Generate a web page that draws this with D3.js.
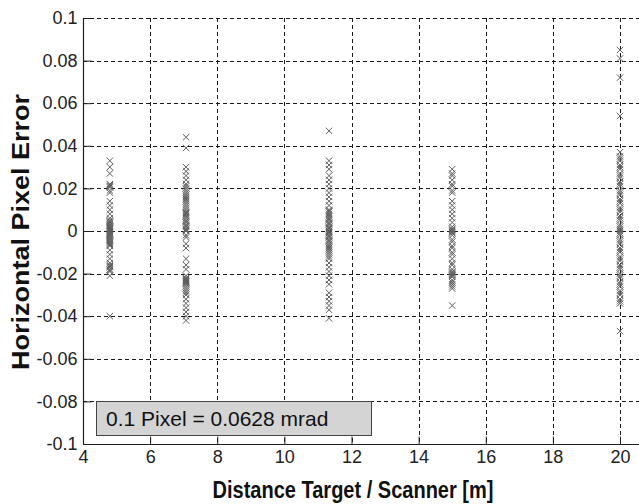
<!DOCTYPE html>
<html><head><meta charset="utf-8">
<script src="https://cdn.jsdelivr.net/npm/d3@7"></script>
<style>body{margin:0;background:#fff}svg{display:block}</style>
</head><body>
<svg id="c" width="639" height="504"></svg>
<script>
const xTicks = [4,6,8,10,12,14,16,18,20];
const yTicks = [-0.1,-0.08,-0.06,-0.04,-0.02,0,0.02,0.04,0.06,0.08,0.1];
const distances = [4.8, 7.07, 11.33, 15.0, 20.0];
const err48 = [0.033,0.030,0.027,0.022,0.0215,0.021,0.0205,0.019,0.018,0.014,0.012,0.010,0.008,0.006,0.005,0.0045,0.004,0.0035,0.003,0.0025,0.002,0.0015,0.001,0.0005,0.000,-0.0005,-0.001,-0.0015,-0.002,-0.0025,-0.003,-0.0035,-0.004,-0.0045,-0.005,-0.0055,-0.006,-0.0065,-0.007,-0.009,-0.011,-0.013,-0.015,-0.016,-0.0165,-0.017,-0.018,-0.0185,-0.019,-0.021,-0.040];
const err71 = [0.044,0.039,0.030,0.028,0.026,0.024,0.022,0.021,0.020,0.019,0.018,0.017,0.016,0.015,0.014,0.013,0.012,0.011,0.010,0.009,0.0085,0.008,0.007,0.006,0.005,0.0045,0.004,0.003,0.0025,0.002,0.001,0.0005,0.000,-0.002,-0.003,-0.006,-0.008,-0.013,-0.016,-0.018,-0.021,-0.022,-0.0225,-0.023,-0.0235,-0.024,-0.0245,-0.025,-0.026,-0.027,-0.028,-0.029,-0.030,-0.032,-0.034,-0.036,-0.038,-0.040,-0.042];
const err113 = [0.047,0.033,0.031,0.029,0.026,0.024,0.022,0.020,0.018,0.016,0.014,0.012,0.010,0.0095,0.009,0.008,0.007,0.006,0.0055,0.005,0.004,0.0035,0.003,0.002,0.0015,0.001,0.000,-0.0005,-0.001,-0.002,-0.0025,-0.003,-0.004,-0.0045,-0.005,-0.006,-0.007,-0.008,-0.009,-0.010,-0.011,-0.012,-0.013,-0.015,-0.017,-0.019,-0.021,-0.023,-0.025,-0.029,-0.031,-0.033,-0.035,-0.037,-0.041];
const err150 = [0.029,0.027,0.026,0.024,0.022,0.021,0.019,0.018,0.014,0.012,0.010,0.008,0.006,0.004,0.002,0.001,0.0005,0.000,-0.0005,-0.001,-0.002,-0.004,-0.005,-0.007,-0.008,-0.010,-0.011,-0.013,-0.015,-0.016,-0.018,-0.019,-0.0195,-0.020,-0.0205,-0.021,-0.0215,-0.023,-0.024,-0.025,-0.026,-0.027,-0.035];
const err200 = [0.085,0.081,0.072,0.054,0.037,0.035,0.034,0.033,0.031,0.030,0.029,0.027,0.026,0.025,0.023,0.022,0.021,0.019,0.018,0.017,0.015,0.014,0.013,0.011,0.010,0.009,0.007,0.006,0.005,0.003,0.002,0.001,0.000,-0.001,-0.002,-0.004,-0.005,-0.006,-0.008,-0.009,-0.010,-0.012,-0.013,-0.014,-0.016,-0.017,-0.018,-0.020,-0.021,-0.022,-0.024,-0.025,-0.026,-0.028,-0.029,-0.030,-0.032,-0.033,-0.034,-0.047];
const seriesErr = [err48, err71, err113, err150, err200];
const xLabel = "Distance Target / Scanner [m]";
const yLabel = "Horizontal Pixel Error";
const note = "0.1 Pixel = 0.0628 mrad";

const svg = d3.select("#c");
const L = 83, R = 620, T = 18, B = 444;
const x = d3.scaleLinear().domain([4,20]).range([L,R]);
const y = d3.scaleLinear().domain([-0.1,0.1]).range([B,T]);
const font = "'Liberation Sans', Arial, sans-serif";

// gridlines
const g = svg.append("g").attr("stroke","#1a1a1a").attr("stroke-width",1).attr("stroke-dasharray","4,3");
g.selectAll("line.v").data(xTicks.slice(1)).join("line")
  .attr("x1",d=>Math.round(x(d))+0.5).attr("x2",d=>Math.round(x(d))+0.5).attr("y1",T).attr("y2",B);
g.selectAll("line.h").data(yTicks.slice(1)).join("line")
  .attr("y1",d=>Math.round(y(d))+0.5).attr("y2",d=>Math.round(y(d))+0.5).attr("x1",L).attr("x2",639);

// markers
const pts = [];
seriesErr.forEach((arr,i)=>arr.forEach(v=>pts.push([distances[i],v])));
const s = 3.2;
svg.append("g").attr("stroke","#5e5e5e").attr("stroke-width",1).attr("fill","none")
  .selectAll("path").data(pts).join("path")
  .attr("d",d=>{const cx=x(d[0]), cy=y(d[1]);
    return `M${cx-s},${cy-s}L${cx+s},${cy+s}M${cx-s},${cy+s}L${cx+s},${cy-s}`;});

// legend box
svg.append("rect").attr("x",96.5).attr("y",401.5).attr("width",275).attr("height",34)
  .attr("fill","#d4d4d4").attr("stroke","#444").attr("stroke-width",1);
svg.append("text").attr("x",106).attr("y",426).attr("font-family",font).attr("font-size",21)
  .attr("fill","#111").text(note);

// axes
const xAxis = d3.axisBottom(x).tickValues(xTicks).tickSize(-8).tickPadding(6).tickFormat(d3.format("d"));
const ax = svg.append("g").attr("transform",`translate(0,${B+0.5})`).call(xAxis);
ax.select(".domain").remove();
ax.append("line").attr("x1",L).attr("x2",639).attr("stroke","#222").attr("stroke-width",1.2);
ax.selectAll(".tick line").attr("stroke","#222");
ax.selectAll(".tick text").attr("font-family",font).attr("font-size",18).attr("fill","#222");

const yAxis = d3.axisLeft(y).tickValues(yTicks).tickSize(-8).tickPadding(6).tickFormat(d=>String(+d.toFixed(2)));
const ay = svg.append("g").attr("transform",`translate(${L+0.5},0)`).call(yAxis);
ay.select(".domain").remove();
ay.append("line").attr("y1",T).attr("y2",B).attr("stroke","#222").attr("stroke-width",1.2);
ay.selectAll(".tick line").attr("stroke","#222");
ay.selectAll(".tick text").attr("font-family",font).attr("font-size",18).attr("fill","#222");

// titles
svg.append("text").attr("transform","translate(353,498) scale(0.87,1)").attr("text-anchor","middle")
  .attr("font-family",font).attr("font-weight","bold").attr("font-size",23).attr("fill","#111").text(xLabel);
svg.append("text").attr("transform","translate(29,232) rotate(-90) scale(1,0.87)").attr("text-anchor","middle")
  .attr("font-family",font).attr("font-weight","bold").attr("font-size",27).attr("fill","#111").text(yLabel);
</script>
</body></html>
